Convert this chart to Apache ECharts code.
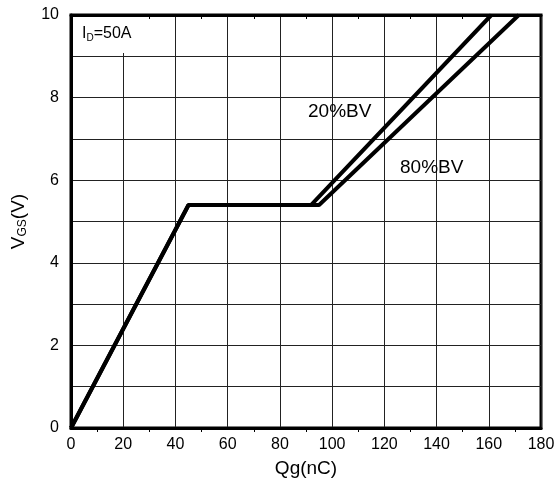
<!DOCTYPE html>
<html><head><meta charset="utf-8">
<script src="https://cdn.jsdelivr.net/npm/echarts@6/dist/echarts.min.js"></script>
<style>html,body{margin:0;padding:0;background:#fff}#c{width:558px;height:488px}</style>
</head><body><div id="c"></div>
<script>
const qg20 = [0, 45, 92, 161];
const vgs20 = [0, 5.4, 5.4, 10];
const qg80 = [0, 45, 95, 171.5];
const vgs80 = [0, 5.4, 5.4, 10];
const xTicks = [0, 20, 40, 60, 80, 100, 120, 140, 160, 180];
const yTicks = [0, 2, 4, 6, 8, 10];

const font = '"Liberation Sans", Arial, sans-serif';
const chart = echarts.init(document.getElementById('c'));
const gridLine = {show: true, lineStyle: {color: '#222', width: 1}};
chart.setOption({
  animation: false,
  grid: {left: 71, right: 17, top: 15, bottom: 60, show: true, borderColor: '#000', borderWidth: 3, backgroundColor: '#fff'},
  xAxis: [{
    type: 'value', min: xTicks[0], max: xTicks[xTicks.length - 1], interval: 20,
    name: 'Qg(nC)', nameLocation: 'middle', nameGap: 31,
    nameTextStyle: {fontFamily: font, fontSize: 19, color: '#000'},
    axisLine: {show: true, lineStyle: {color: '#000', width: 3}},
    axisTick: {show: false},
    minorTick: {show: true, splitNumber: 2, length: 4, lineStyle: {color: '#000', width: 1}},
    axisLabel: {fontFamily: font, fontSize: 16, color: '#000', margin: 9},
    splitLine: gridLine
  }, {
    type: 'value', position: 'top', min: xTicks[0], max: xTicks[xTicks.length - 1], interval: 20,
    axisLine: {show: true, lineStyle: {color: '#000', width: 3}},
    axisTick: {show: false},
    minorTick: {show: true, splitNumber: 2, length: -4, lineStyle: {color: '#000', width: 1}},
    axisLabel: {show: false}, splitLine: {show: false}
  }],
  yAxis: {
    type: 'value', min: yTicks[0], max: yTicks[yTicks.length - 1], interval: 1,
    name: '{v|V}{s|GS}{v|(V)}', nameLocation: 'middle', nameGap: 42,
    nameTextStyle: {rich: {v: {fontFamily: font, fontSize: 19, color: '#000'}, s: {fontFamily: font, fontSize: 12, color: '#000', verticalAlign: 'bottom', padding: [9, 0, 0, 0]}}},
    axisLine: {show: true, lineStyle: {color: '#000', width: 3}},
    axisTick: {show: false},
    axisLabel: {fontFamily: font, fontSize: 16, color: '#000', margin: 12,
      formatter: v => yTicks.indexOf(v) >= 0 ? String(v) : ''},
    splitLine: gridLine
  },
  series: [{
    type: 'line', data: qg20.map((x, i) => [x, vgs20[i]]), showSymbol: false,
    lineStyle: {color: '#000', width: 4}, z: 5
  }, {
    type: 'line', data: qg80.map((x, i) => [x, vgs80[i]]), showSymbol: false,
    lineStyle: {color: '#000', width: 4}, z: 5
  }],
  graphic: [
    {type: 'rect', left: 73, top: 17, shape: {width: 64, height: 36}, style: {fill: '#fff'}, z: 10},
    {type: 'text', left: 82, top: 26, z: 11, style: {
      text: '{v|I}{s|D}{v|=50A}',
      rich: {v: {fontFamily: font, fontSize: 16, fill: '#000'}, s: {fontFamily: font, fontSize: 10, fill: '#000', verticalAlign: 'bottom', padding: [9, 0, 0, 0]}}
    }},
    {type: 'text', left: 308, top: 102, z: 11, style: {text: '20%BV', fontFamily: font, fontSize: 19, fill: '#000'}},
    {type: 'text', left: 400, top: 158, z: 11, style: {text: '80%BV', fontFamily: font, fontSize: 19, fill: '#000'}}
  ]
});
</script></body></html>
